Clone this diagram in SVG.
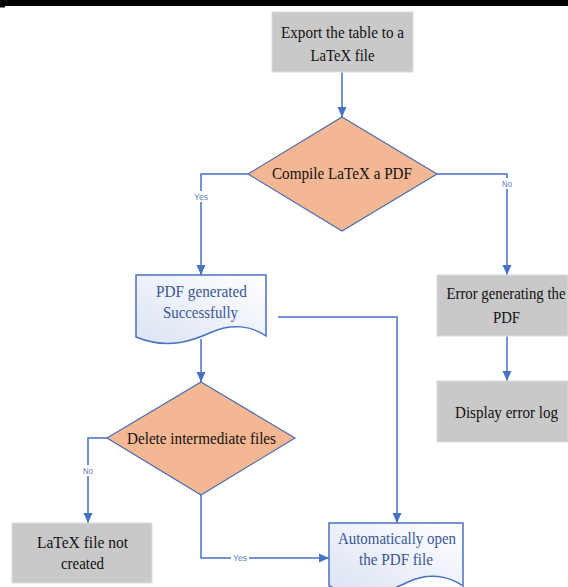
<svg xmlns="http://www.w3.org/2000/svg" width="568" height="587" viewBox="0 0 568 587">
<style>
.box{fill:#c9c9c9;stroke:#dcdcdc;stroke-width:1}
.dia{fill:#f4b793;stroke:#4a6cb2;stroke-width:1.2}
.doc{fill:url(#docg);stroke:#4a72c4;stroke-width:1.5}
.t{font-family:"Liberation Serif","Times New Roman",serif;font-size:17px;fill:#111}
.td{font-family:"Liberation Serif","Times New Roman",serif;font-size:17px;fill:#3b5795}
.c{fill:none;stroke:#4472c4;stroke-width:1.5}
.lbl{font-family:"Liberation Sans",Arial,sans-serif;font-size:9px;fill:#5b7fc4}
</style>
<defs>
<linearGradient id="docg" x1="1" y1="0" x2="0" y2="1">
<stop offset="0" stop-color="#ffffff"/>
<stop offset="1" stop-color="#dbe3f3"/>
</linearGradient>
<marker id="ah" markerUnits="userSpaceOnUse" markerWidth="10" markerHeight="10" viewBox="0 0 10 10" refX="10" refY="5" orient="auto">
<path d="M0,0.5 L10,5 L0,9.5 z" fill="#4472c4"/>
</marker>
</defs>
<rect width="568" height="587" fill="#ffffff"/>
<rect x="0" y="0" width="568" height="6" fill="#000"/>
<rect x="0" y="0" width="5" height="7.5" fill="#000"/>

<g id="connectors">
<path class="c" d="M342,72 V117" marker-end="url(#ah)"/>
<path class="c" d="M248,174 H201 V275" marker-end="url(#ah)"/>
<path class="c" d="M437,174 H507 V275" marker-end="url(#ah)"/>
<path class="c" d="M201,339 V382" marker-end="url(#ah)"/>
<path class="c" d="M278,317 H397 V523" marker-end="url(#ah)"/>
<path class="c" d="M107,438 H88 V523" marker-end="url(#ah)"/>
<path class="c" d="M201,495 V558 H329" marker-end="url(#ah)"/>
<path class="c" d="M507,336 V381" marker-end="url(#ah)"/>
<rect x="192" y="191" width="18" height="11" fill="#fff"/>
<text class="lbl" x="201" y="200" text-anchor="middle" textLength="14" lengthAdjust="spacingAndGlyphs">Yes</text>
<rect x="500" y="178" width="14" height="11" fill="#fff"/>
<text class="lbl" x="507" y="187" text-anchor="middle" textLength="10" lengthAdjust="spacingAndGlyphs">No</text>
<rect x="81" y="465" width="14" height="11" fill="#fff"/>
<text class="lbl" x="88" y="474" text-anchor="middle" textLength="10" lengthAdjust="spacingAndGlyphs">No</text>
<rect x="231" y="553" width="18" height="10" fill="#fff"/>
<text class="lbl" x="240" y="561" text-anchor="middle" textLength="14" lengthAdjust="spacingAndGlyphs">Yes</text>
</g>

<g id="export">
<rect class="box" x="272" y="12" width="141" height="60"/>
<text class="t" x="342.5" y="38" text-anchor="middle" textLength="123" lengthAdjust="spacingAndGlyphs">Export the table to a</text>
<text class="t" x="342.5" y="61" text-anchor="middle" textLength="64" lengthAdjust="spacingAndGlyphs">LaTeX file</text>
</g>

<g id="compile">
<polygon class="dia" points="342,117 437,174 342,231 248,174"/>
<text class="t" x="342" y="179" text-anchor="middle" textLength="140" lengthAdjust="spacingAndGlyphs">Compile LaTeX a PDF</text>
</g>

<g id="pdfgen">
<path class="doc" d="M136,275 H266 V336 C252,326 232,323 212,332 C192,341 168,350 136,337 Z"/>
<text class="td" x="201.5" y="297" text-anchor="middle" textLength="91" lengthAdjust="spacingAndGlyphs">PDF generated</text>
<text class="td" x="200.5" y="318" text-anchor="middle" textLength="75" lengthAdjust="spacingAndGlyphs">Successfully</text>
</g>

<g id="error">
<rect class="box" x="437" y="275" width="131" height="61"/>
<text class="t" x="506" y="299" text-anchor="middle" textLength="119" lengthAdjust="spacingAndGlyphs">Error generating the</text>
<text class="t" x="506.5" y="323" text-anchor="middle" textLength="27" lengthAdjust="spacingAndGlyphs">PDF</text>
</g>

<g id="display">
<rect class="box" x="437" y="381" width="131" height="61"/>
<text class="t" x="506.5" y="418" text-anchor="middle" textLength="103" lengthAdjust="spacingAndGlyphs">Display error log</text>
</g>

<g id="delete">
<polygon class="dia" points="201,382 295,438 201,495 107,438"/>
<text class="t" x="201.5" y="444" text-anchor="middle" textLength="149" lengthAdjust="spacingAndGlyphs">Delete intermediate files</text>
</g>

<g id="notcreated">
<rect class="box" x="12" y="523" width="140" height="60"/>
<text class="t" x="82.5" y="548" text-anchor="middle" textLength="91" lengthAdjust="spacingAndGlyphs">LaTeX file not</text>
<text class="t" x="82.5" y="569" text-anchor="middle" textLength="43" lengthAdjust="spacingAndGlyphs">created</text>
</g>

<g id="autoopen">
<path class="doc" d="M329,523 H463 V586 C449,576 429,572 408,582 C388,592 362,600 329,586 Z"/>
<text class="td" x="397" y="544" text-anchor="middle" textLength="118" lengthAdjust="spacingAndGlyphs">Automatically open</text>
<text class="td" x="396" y="565" text-anchor="middle" textLength="74" lengthAdjust="spacingAndGlyphs">the PDF file</text>
</g>
</svg>
